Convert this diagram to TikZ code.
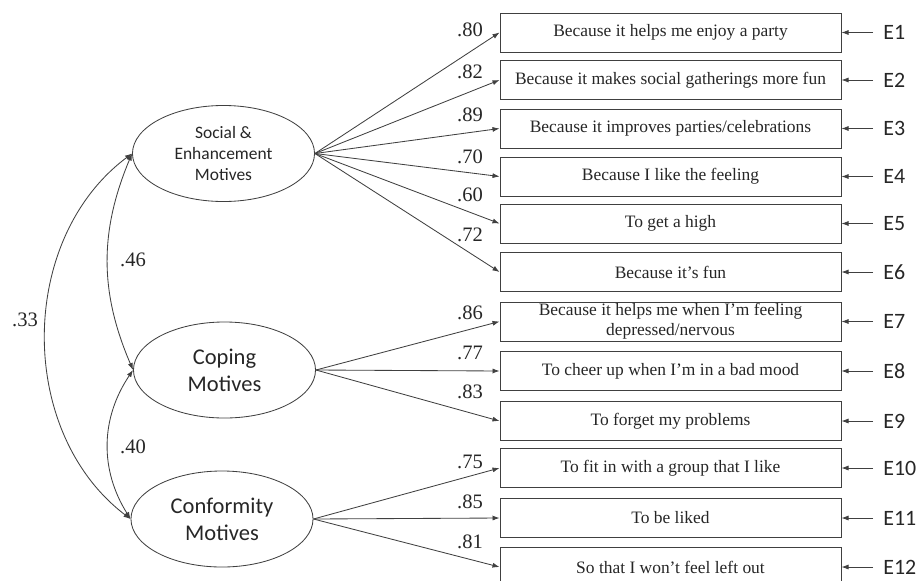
\documentclass[tikz,border=0pt]{standalone}
\usepackage{fontspec}
\setmainfont{Liberation Serif}
\newfontfamily\calfont{Carlito}
\usetikzlibrary{arrows.meta,shapes.geometric}
\definecolor{ink}{HTML}{262626}
\definecolor{lineclr}{HTML}{404040}
\tikzset{
  item/.style={draw=lineclr, line width=0.6pt, minimum width=8.525cm, minimum height=0.975cm, inner sep=0pt, align=center, text=ink, font=\fontsize{12.4}{14.2}\selectfont},
  factor/.style={ellipse, draw=lineclr, line width=0.6pt, minimum width=4.55cm, minimum height=2.4cm, inner sep=0pt, align=center, text=ink},
  err/.style={anchor=west, inner xsep=0.25cm, inner ysep=0pt, text=ink, font=\calfont\fontsize{15.6}{18}\selectfont},
  loadlbl/.style={text=ink, inner sep=0pt, font=\fontsize{14.6}{16}\selectfont},
  loadarrow/.style={draw=lineclr, line width=0.6pt, -{Latex[length=5pt,width=3.6pt]}},
  cov/.style={draw=lineclr, line width=0.6pt, {Latex[length=5pt,width=3.6pt]}-{Latex[length=5pt,width=3.6pt]}}
}
\begin{document}
\begin{tikzpicture}[x=0.025cm, y=-0.025cm]
\clip (0,0) rectangle (919,580);

% latent factors
\node [factor, font=\calfont\fontsize{12.4}{14.6}\selectfont] (soc) at (223.5,153.5) {Social \&\\Enhancement\\Motives};
\node [factor, font=\calfont\fontsize{16}{19.2}\selectfont] (cop) at (224.5,370) {Coping\\Motives};
\node [factor, font=\calfont\fontsize{16}{19.2}\selectfont] (con) at (222,519) {Conformity\\Motives};

% items
\node [item] (b1) at (670.5,32.5) {Because it helps me enjoy a party};
\node [item] (b2) at (670.5,80) {Because it makes social gatherings more fun};
\node [item] (b3) at (670.5,128.5) {Because it improves parties/celebrations};
\node [item] (b4) at (670.5,176.5) {Because I like the feeling};
\node [item] (b5) at (670.5,223.5) {To get a high};
\node [item] (b6) at (670.5,272) {Because it’s fun};
\node [item] (b7) at (670.5,321.5) {Because it helps me when I’m feeling\\depressed/nervous};
\node [item] (b8) at (670.5,371) {To cheer up when I’m in a bad mood};
\node [item] (b9) at (670.5,421) {To forget my problems};
\node [item] (b10) at (670.5,468) {To fit in with a group that I like};
\node [item] (b11) at (670.5,518) {To be liked};
\node [item] (b12) at (670.5,567) {So that I won’t feel left out};

% error terms
\node [err] (e1) at (873,32.5) {E1};
\node [err] (e2) at (873,80) {E2};
\node [err] (e3) at (873,128.5) {E3};
\node [err] (e4) at (873,176.5) {E4};
\node [err] (e5) at (873,223.5) {E5};
\node [err] (e6) at (873,272) {E6};
\node [err] (e7) at (873,321.5) {E7};
\node [err] (e8) at (873,371) {E8};
\node [err] (e9) at (873,421) {E9};
\node [err] (e10) at (873,468) {E10};
\node [err] (e11) at (873,518) {E11};
\node [err] (e12) at (873,567) {E12};

\draw [loadarrow] (e1.west) -- (b1.east);
\draw [loadarrow] (e2.west) -- (b2.east);
\draw [loadarrow] (e3.west) -- (b3.east);
\draw [loadarrow] (e4.west) -- (b4.east);
\draw [loadarrow] (e5.west) -- (b5.east);
\draw [loadarrow] (e6.west) -- (b6.east);
\draw [loadarrow] (e7.west) -- (b7.east);
\draw [loadarrow] (e8.west) -- (b8.east);
\draw [loadarrow] (e9.west) -- (b9.east);
\draw [loadarrow] (e10.west) -- (b10.east);
\draw [loadarrow] (e11.west) -- (b11.east);
\draw [loadarrow] (e12.west) -- (b12.east);

% loadings
\draw [loadarrow] (soc.east) -- (b1.west);
\draw [loadarrow] (soc.east) -- (b2.west);
\draw [loadarrow] (soc.east) -- (b3.west);
\draw [loadarrow] (soc.east) -- (b4.west);
\draw [loadarrow] (soc.east) -- (b5.west);
\draw [loadarrow] (soc.east) -- (b6.west);
\draw [loadarrow] (cop.east) -- (b7.west);
\draw [loadarrow] (cop.east) -- (b8.west);
\draw [loadarrow] (cop.east) -- (b9.west);
\draw [loadarrow] (con.east) -- (b10.west);
\draw [loadarrow] (con.east) -- (b11.west);
\draw [loadarrow] (con.east) -- (b12.west);

\node [loadlbl] (l1) at (470,30) {.80};
\node [loadlbl] (l2) at (470,72) {.82};
\node [loadlbl] (l3) at (470,115) {.89};
\node [loadlbl] (l4) at (470,157) {.70};
\node [loadlbl] (l5) at (470,195) {.60};
\node [loadlbl] (l6) at (470,235) {.72};
\node [loadlbl] (l7) at (470,313) {.86};
\node [loadlbl] (l8) at (470,353) {.77};
\node [loadlbl] (l9) at (470,392) {.83};
\node [loadlbl] (l10) at (470,462) {.75};
\node [loadlbl] (l11) at (470,502) {.85};
\node [loadlbl] (l12) at (470,542) {.81};

% correlations
\draw [cov] (soc.west) to[bend right=23] (cop.west);
\draw [cov] (cop.west) to[bend right=33] (con.west);
\draw [cov] (soc.west) to[bend right=53] (con.west);

\node [loadlbl] (r1) at (133,260) {.46};
\node [loadlbl] (r2) at (133,447) {.40};
\node [loadlbl] (r3) at (25,320) {.33};
\end{tikzpicture}
\end{document}
